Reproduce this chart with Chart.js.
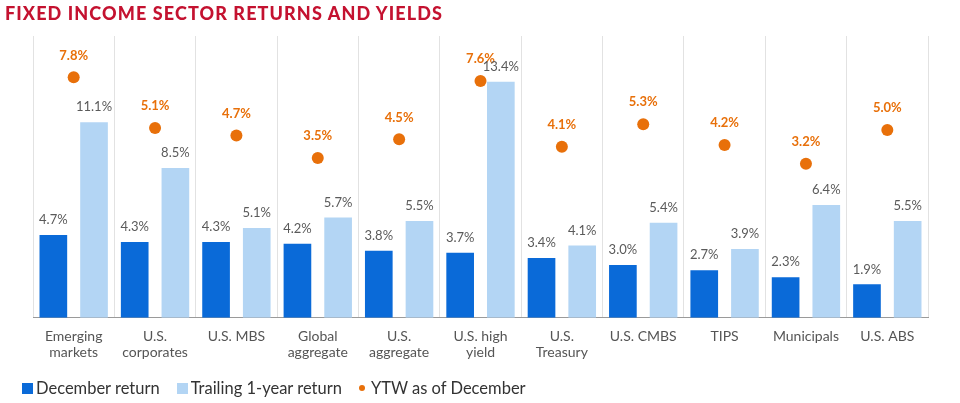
<!DOCTYPE html>
<html>
<head>
<meta charset="utf-8">
<script src="https://cdn.jsdelivr.net/npm/chart.js@4.4.0/dist/chart.umd.min.js"></script>
<style>
  body { margin: 0; background: #fff; font-family: Lato, "Open Sans", sans-serif; }
  #wrap { position: relative; width: 960px; height: 403px; }
  #title { position: absolute; left: 5px; top: 2px; color: #c41230; font-weight: 900;
           font-size: 18px; letter-spacing: 1.1px; }
  #chart { position: absolute; left: 0; top: 0; }
  #legend { position: absolute; left: 22px; top: 378px; display: flex; align-items: center;
            font-size: 16.5px; color: #333; }
  .sq { display: inline-block; width: 11px; height: 11px; margin-right: 3px; }
  .dot { display: inline-block; width: 6px; height: 6px; border-radius: 50%; margin-right: 6px; }
  .item { display: flex; align-items: center; margin-right: 17px; }
</style>
</head>
<body>
<div id="wrap">
  <canvas id="chart" width="960" height="403"></canvas>
  <div id="title">FIXED INCOME SECTOR RETURNS AND YIELDS</div>
  <div id="legend">
    <div class="item"><span class="sq" style="background:#0a6ad8"></span>December return</div>
    <div class="item"><span class="sq" style="background:#b3d5f4"></span>Trailing 1-year return</div>
    <div class="item"><span class="dot" style="background:#e8700a"></span>YTW as of December</div>
  </div>
</div>
<script>
// Categories
let sectors = [
    ["Emerging", "markets"], ["U.S.", "corporates"], "U.S. MBS", ["Global", "aggregate"],
    ["U.S.", "aggregate"], ["U.S. high", "yield"], ["U.S.", "Treasury"], "U.S. CMBS",
    "TIPS", "Municipals", "U.S. ABS"
];

// Series values (%)
let decemberReturn = [4.7, 4.3, 4.3, 4.2, 3.8, 3.7, 3.4, 3.0, 2.7, 2.3, 1.9];
let trailingReturn = [11.1, 8.5, 5.1, 5.7, 5.5, 13.4, 4.1, 5.4, 3.9, 6.4, 5.5];
let ytw = [7.8, 5.1, 4.7, 3.5, 4.5, 7.6, 4.1, 5.3, 4.2, 3.2, 5.0];

// Draws the value labels above bars and dots
const valueLabels = {
    id: "valueLabels",
    afterDatasetsDraw(chart) {
        const ctx = chart.ctx;
        ctx.save();
        ctx.textAlign = "center";
        ctx.textBaseline = "middle";
        chart.data.datasets.forEach((ds, i) => {
            let meta = chart.getDatasetMeta(i);
            meta.data.forEach((el, j) => {
                let txt = ds.data[j].toFixed(1) + "%";
                if (ds.type === "line") {
                    ctx.fillStyle = "#e8700a";
                    ctx.font = "bold 13px Lato, sans-serif";
                    ctx.fillText(txt, el.x, el.y - 22);
                } else {
                    ctx.fillStyle = "#5a5a5a";
                    ctx.font = "13px Lato, sans-serif";
                    ctx.fillText(txt, el.x, el.y - 15);
                }
            });
        });
        ctx.restore();
    }
};

const ctx = document.getElementById("chart").getContext("2d");
new Chart(ctx, {
    type: "bar",
    data: {
        labels: sectors,
        datasets: [
            {
                type: "line",
                label: "YTW as of December",
                data: ytw,
                yAxisID: "y2",
                showLine: false,
                pointRadius: 6,
                pointHoverRadius: 6,
                pointBackgroundColor: "#e8700a",
                pointBorderWidth: 0,
                order: 0
            },
            {
                label: "December return",
                data: decemberReturn,
                backgroundColor: "#0a6ad8",
                categoryPercentage: 1.0,
                barPercentage: 0.68,
                order: 1
            },
            {
                label: "Trailing 1-year return",
                data: trailingReturn,
                backgroundColor: "#b3d5f4",
                categoryPercentage: 1.0,
                barPercentage: 0.68,
                order: 1
            }
        ]
    },
    options: {
        responsive: false,
        animation: false,
        layout: { padding: { left: 33, right: 32, top: 36, bottom: 31 } },
        plugins: {
            legend: { display: false },
            tooltip: { enabled: false }
        },
        scales: {
            x: {
                grid: { color: "#e2e2e2", lineWidth: 1, drawTicks: false },
                border: { color: "#9a9a9a", width: 1 },
                ticks: {
                    color: "#555",
                    font: { family: "Lato", size: 14, lineHeight: 1.15 },
                    padding: 11,
                    maxRotation: 0,
                    autoSkip: false
                }
            },
            y: { display: false, min: 0, max: 16 },
            y2: { display: false, min: -5, max: 10 }
        }
    },
    plugins: [valueLabels]
});
</script>
</body>
</html>
